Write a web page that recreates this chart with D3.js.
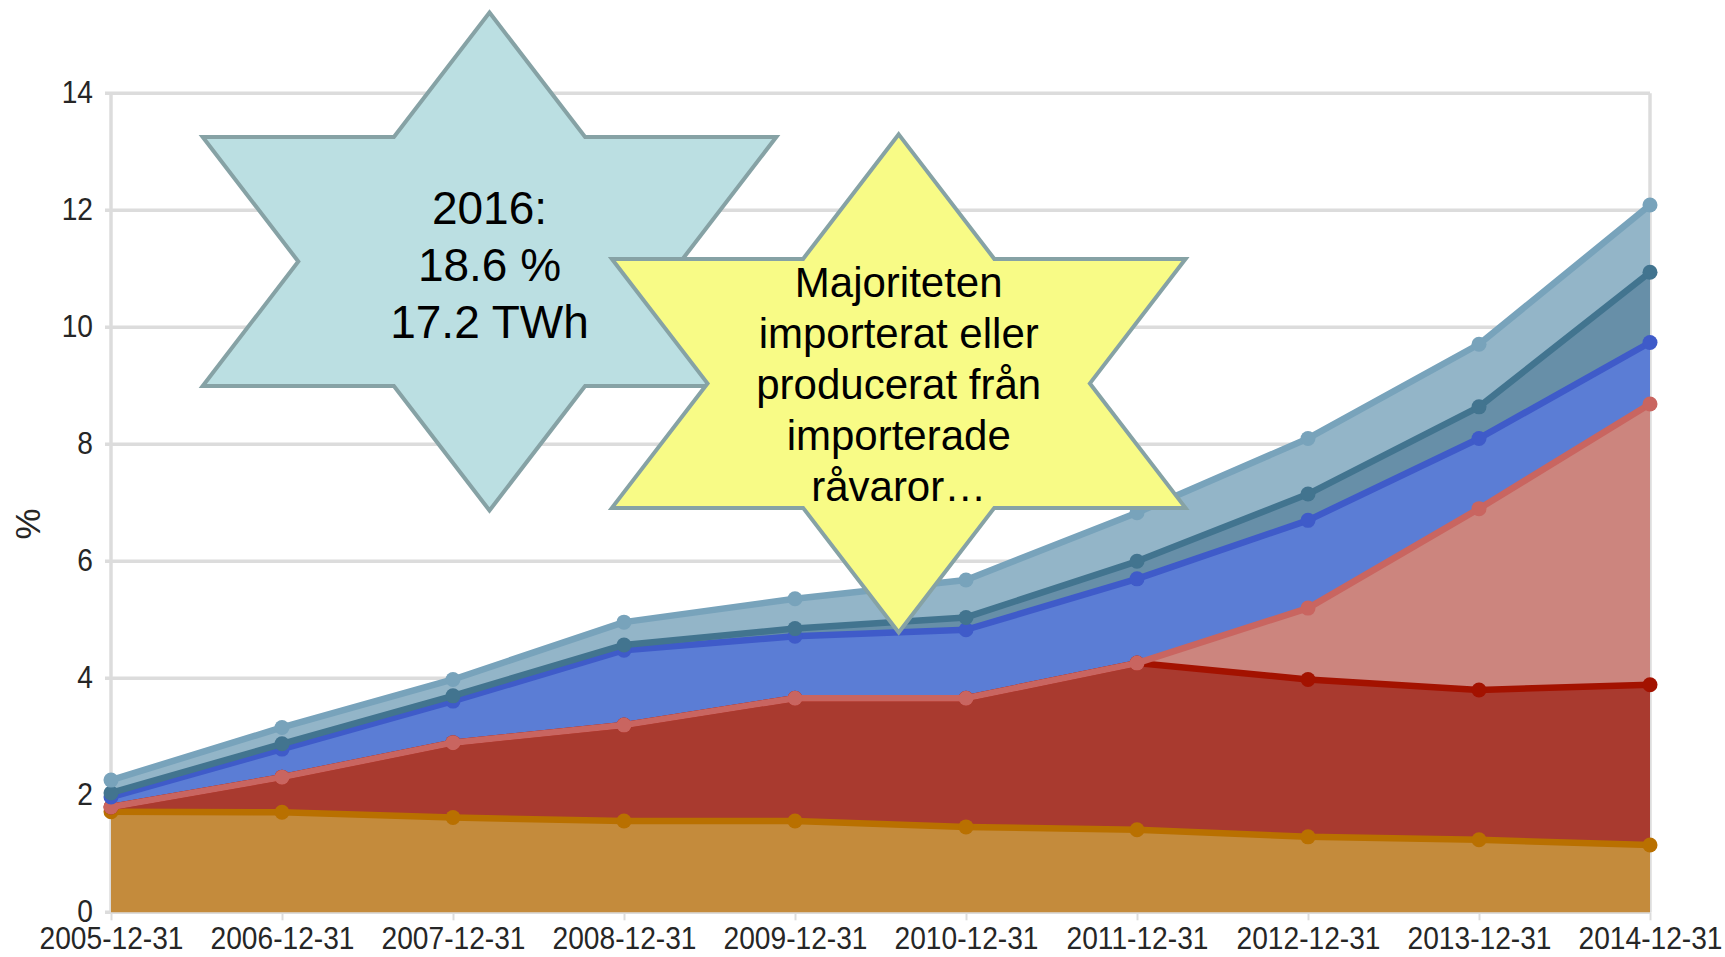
<!DOCTYPE html>
<html>
<head>
<meta charset="utf-8">
<script src="https://cdn.jsdelivr.net/npm/d3@7"></script>
<style>
    body { margin: 0; background: #fff; }
    svg { display: block; font-family: "Liberation Sans", Arial, sans-serif; }
</style>
</head>
<body>
<svg id="chart" width="1725" height="957"></svg>
<script>
// years on the x axis
const categories = ["2005-12-31", "2006-12-31", "2007-12-31", "2008-12-31", "2009-12-31",
    "2010-12-31", "2011-12-31", "2012-12-31", "2013-12-31", "2014-12-31"];

// stacked series, bottom to top (percent)
const orangeVals  = [1.72, 1.71, 1.62, 1.56, 1.56, 1.46, 1.41, 1.29, 1.24, 1.15];
const darkRedVals = [0.08, 0.60, 1.28, 1.64, 2.10, 2.20, 2.85, 2.69, 2.56, 2.74];
const pinkVals    = [0, 0, 0, 0, 0, 0, 0, 1.22, 3.10, 4.80];
const blueVals    = [0.17, 0.48, 0.71, 1.28, 1.06, 1.17, 1.44, 1.50, 1.20, 1.05];
const tealVals    = [0.07, 0.09, 0.09, 0.09, 0.13, 0.21, 0.30, 0.45, 0.54, 1.20];
const lightVals   = [0.22, 0.28, 0.28, 0.39, 0.51, 0.64, 0.83, 0.95, 1.07, 1.15];

const yTicks = [0, 2, 4, 6, 8, 10, 12, 14];

const starBlueText = ["2016:", "18.6 %", "17.2 TWh"];
const starYellowText = ["Majoriteten", "importerat eller", "producerat från", "importerade", "råvaror…"];

const series = [
    { key: "orange", vals: orangeVals, fill: "#c48b3c", stroke: "#b97000" },
    { key: "darkred", vals: darkRedVals, fill: "#a93a2f", stroke: "#a31200" },
    { key: "pink", vals: pinkVals, fill: "#cc857e", stroke: "#c96560" },
    { key: "blue", vals: blueVals, fill: "#5b7dd5", stroke: "#3f5bc9" },
    { key: "teal", vals: tealVals, fill: "#678fa8", stroke: "#42748f" },
    { key: "light", vals: lightVals, fill: "#93b5c8", stroke: "#78a3bb" },
];

// table for d3.stack
const table = categories.map((c, i) => {
    const row = { year: c };
    series.forEach((s) => (row[s.key] = s.vals[i]));
    return row;
});

const plotLeft = 111, plotRight = 1650, plotTop = 93.3, plotBottom = 912.3;
const squeeze = 0.88; // tick labels in the original are a bit narrow

const svg = d3.select("#chart");

const x = d3.scalePoint().domain(categories).range([plotLeft, plotRight]);
const y = d3.scaleLinear().domain([0, 14]).range([plotBottom, plotTop]);

const gridColor = "#dcdcdc";

// horizontal grid lines (with small stubs left of the axis)
svg.append("g")
    .selectAll("line")
    .data(yTicks)
    .enter()
    .append("line")
    .attr("x1", plotLeft - 6)
    .attr("x2", plotRight)
    .attr("y1", (d) => y(d))
    .attr("y2", (d) => y(d))
    .attr("stroke", gridColor)
    .attr("stroke-width", 3.5);

// left and right frame lines
svg.append("g")
    .selectAll("line")
    .data([plotLeft, plotRight])
    .enter()
    .append("line")
    .attr("x1", (d) => d)
    .attr("x2", (d) => d)
    .attr("y1", plotTop)
    .attr("y2", plotBottom)
    .attr("stroke", gridColor)
    .attr("stroke-width", 3.5);

// y axis labels
const yAxis = svg.append("g")
    .attr("transform", `translate(${plotLeft},0)`)
    .call(d3.axisLeft(y).tickValues(yTicks).tickSize(0).tickPadding(18).tickFormat(d3.format("d")));
yAxis.select(".domain").remove();
yAxis.selectAll("text")
    .attr("font-size", 32)
    .attr("font-family", "Liberation Sans, Arial, sans-serif")
    .attr("fill", "#262626")
    .attr("dy", "0.28em")
    .attr("x", -18 / squeeze)
    .attr("transform", `scale(${squeeze},1)`);

// x axis
const xAxis = svg.append("g")
    .attr("transform", `translate(0,${plotBottom})`)
    .call(d3.axisBottom(x).tickSize(8).tickPadding(6));
xAxis.select(".domain").remove();
xAxis.selectAll("line").attr("stroke", gridColor).attr("stroke-width", 2);
xAxis.selectAll("text")
    .attr("font-size", 32)
    .attr("font-family", "Liberation Sans, Arial, sans-serif")
    .attr("fill", "#262626")
    .attr("transform", `scale(${squeeze},1)`);

// y axis title
svg.append("text")
    .attr("transform", "translate(40,524) rotate(-90)")
    .attr("text-anchor", "middle")
    .attr("font-size", 35)
    .attr("fill", "#262626")
    .text("%");

// stacked areas
const stacked = d3.stack().keys(series.map((s) => s.key))(table);

const area = d3.area()
    .x((d) => x(d.data.year))
    .y0((d) => y(d[0]))
    .y1((d) => y(d[1]));

const line = d3.line()
    .x((d) => x(d.data.year))
    .y((d) => y(d[1]));

svg.append("g")
    .selectAll("path")
    .data(stacked)
    .enter()
    .append("path")
    .attr("d", area)
    .attr("fill", (d, i) => series[i].fill);

// lines and dots on top of each layer
const layer = svg.append("g")
    .selectAll("g")
    .data(stacked)
    .enter()
    .append("g");

layer.append("path")
    .attr("d", line)
    .attr("fill", "none")
    .attr("stroke", (d, i) => series[i].stroke)
    .attr("stroke-width", 6.5)
    .attr("stroke-linejoin", "round");

layer.each(function (d, i) {
    d3.select(this)
        .selectAll("circle")
        .data(d)
        .enter()
        .append("circle")
        .attr("cx", (p) => x(p.data.year))
        .attr("cy", (p) => y(p[1]))
        .attr("r", 7.5)
        .attr("fill", series[i].stroke);
});

// six pointed star, stretched horizontally
function hexagram(cx, cy, r, sx) {
    const pts = [];
    for (let k = 0; k < 12; k++) {
        const a = (-90 + k * 30) * Math.PI / 180;
        const rr = k % 2 === 0 ? r : r / Math.sqrt(3);
        pts.push([cx + Math.cos(a) * rr * sx, cy + Math.sin(a) * rr]);
    }
    return "M" + pts.map((p) => p.join(",")).join("L") + "Z";
}

function star(cx, cy, fill, lines, fontSize, lineHeight, firstBaseline) {
    svg.append("path")
        .attr("d", hexagram(cx, cy, 249, 1.33))
        .attr("fill", fill)
        .attr("stroke", "#86a2a5")
        .attr("stroke-width", 4)
        .attr("stroke-linejoin", "miter");

    svg.append("g")
        .selectAll("text")
        .data(lines)
        .enter()
        .append("text")
        .attr("x", cx)
        .attr("y", (d, i) => firstBaseline + i * lineHeight)
        .attr("text-anchor", "middle")
        .attr("font-size", fontSize)
        .attr("fill", "#000")
        .text((d) => d);
}

star(489.5, 261.5, "#bbdfe2", starBlueText, 46, 57, 224);
star(898.7, 383.4, "#f8fb86", starYellowText, 42, 51, 297);
</script>
</body>
</html>
